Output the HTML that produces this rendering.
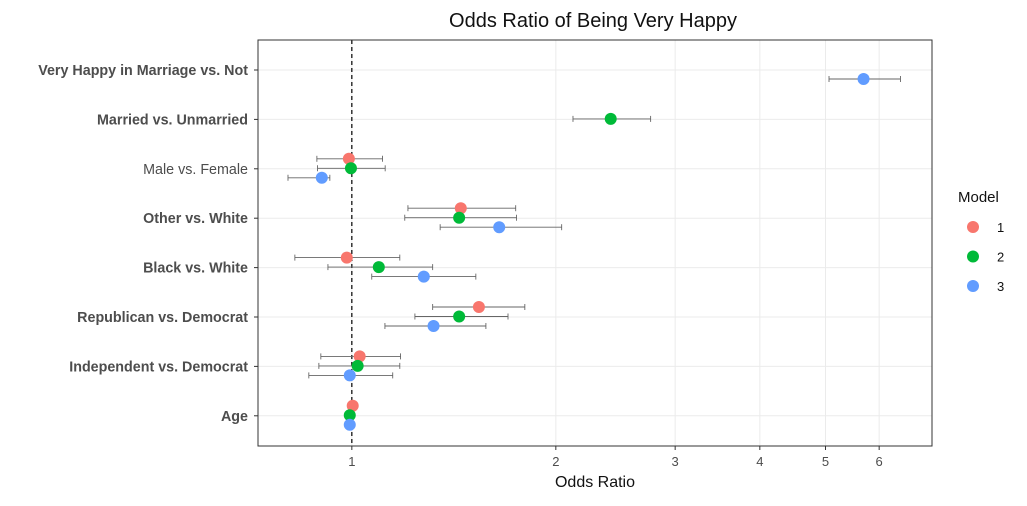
<!DOCTYPE html>
<html><head><meta charset="utf-8"><style>
body{margin:0;background:#fff;font-family:"Liberation Sans",Arial,sans-serif}
svg text{font-family:"Liberation Sans",Arial,sans-serif}
</style></head><body>
<svg id="chart" width="1027" height="501" xmlns="http://www.w3.org/2000/svg">
<rect width="1027" height="501" fill="#fff"/>
<text x="593" y="27" font-size="20" text-anchor="middle" fill="#111">Odds Ratio of Being Very Happy</text>
<g id="grid"></g>
<g id="marks"></g>
<rect x="258" y="40" width="674" height="406" fill="none" stroke="#333" stroke-width="1"/>
<text x="595" y="487" font-size="16" text-anchor="middle" fill="#111">Odds Ratio</text>
<g>
<text x="958" y="202" font-size="15" fill="#111">Model</text>
<g id="legend"></g>
</g>
</svg>
<script>
const categories=["Very Happy in Marriage vs. Not","Married vs. Unmarried","Male vs. Female","Other vs. White","Black vs. White","Republican vs. Democrat","Independent vs. Democrat","Age"];
const boldLabels=[true,true,false,true,true,true,true,true];
const models=["1","2","3"];
const colors=["#F8766D","#00BA38","#619CFF"];
const est1=[null,null,0.99,1.448,0.983,1.54,1.027,1.003];
const lo1=[null,null,0.888,1.21,0.824,1.316,0.9,1.0];
const hi1=[null,null,1.11,1.745,1.177,1.8,1.18,1.006];
const est2=[null,2.41,0.997,1.44,1.096,1.44,1.02,0.993];
const lo2=[null,2.12,0.89,1.197,0.922,1.239,0.894,0.99];
const hi2=[null,2.76,1.12,1.75,1.316,1.7,1.177,0.996];
const est3=[5.69,null,0.903,1.65,1.277,1.32,0.993,0.993];
const lo3=[5.06,null,0.805,1.35,1.07,1.119,0.864,0.99];
const hi3=[6.45,null,0.928,2.04,1.524,1.577,1.149,0.996];
const xTicks=[1,2,3,4,5,6];
const xMin=0.727,xMax=7.18;
const px0=258,px1=932;
const NS="http://www.w3.org/2000/svg";
function x(v){return px0+(Math.log10(v)-Math.log10(xMin))/(Math.log10(xMax)-Math.log10(xMin))*(px1-px0);}
function y(i){return 70+i*49.4;}
function mk(tag,attrs,parent){const e=document.createElementNS(NS,tag);for(const k in attrs)e.setAttribute(k,attrs[k]);parent.appendChild(e);return e;}
const grid=document.getElementById('grid'),marks=document.getElementById('marks'),legend=document.getElementById('legend');
xTicks.forEach(t=>{
 const l=mk('line',{x1:x(t),x2:x(t),y1:40,y2:446,stroke:'#ebebeb','stroke-width':1},grid);
 
 
 const tk=mk('line',{x1:x(t),x2:x(t),y1:446,y2:450,stroke:'#333'},grid);
 
 
 const tx=mk('text',{x:x(t),y:466,'font-size':13,'text-anchor':'middle',fill:'#4d4d4d'},grid);
 tx.textContent=t;
 
 
});
categories.forEach((c,i)=>{
 const l=mk('line',{x1:258,x2:932,y1:y(i),y2:y(i),stroke:'#ebebeb'},grid);
 
 
 const tk=mk('line',{x1:254,x2:258,y1:y(i),y2:y(i),stroke:'#333'},grid);
 
 
 const tx=mk('text',{x:248,y:y(i)+5,'font-size':14.3,'text-anchor':'end',fill:'#4d4d4d','font-weight':boldLabels[i]?'bold':'normal'},grid);
 tx.textContent=c;
 
 
});
const ref=mk('line',{x1:x(1),x2:x(1),y1:40,y2:446,stroke:'#000','stroke-dasharray':'4,3','stroke-width':1.2},grid);


const series=[[est1,lo1,hi1],[est2,lo2,hi2],[est3,lo3,hi3]];
const offs=[-10,-0.5,9];
series.forEach((s,m)=>{
 s[0].forEach((v,i)=>{
  if(v==null)return;
  const yy=y(i)+offs[m];
  const g=mk('g',{},marks);
  
  
  const xl=x(s[1][i]),xh=x(s[2][i]);
  mk('line',{x1:xl,x2:xh,y1:yy,y2:yy,stroke:'#666','stroke-width':0.9},g);
  mk('line',{x1:xl,x2:xl,y1:yy-3,y2:yy+3,stroke:'#666','stroke-width':0.9},g);
  mk('line',{x1:xh,x2:xh,y1:yy-3,y2:yy+3,stroke:'#666','stroke-width':0.9},g);
  mk('circle',{cx:x(v),cy:yy,r:6,fill:colors[m]},g);
 });
});
models.forEach((md,m)=>{
 const g=mk('g',{},legend);
 
 
 mk('circle',{cx:973,cy:227+m*29.5,r:6,fill:colors[m]},g);
 const t=mk('text',{x:997,y:232+m*29.5,'font-size':13,fill:'#111'},g);
 t.textContent=md;
});
</script>
</body></html>
